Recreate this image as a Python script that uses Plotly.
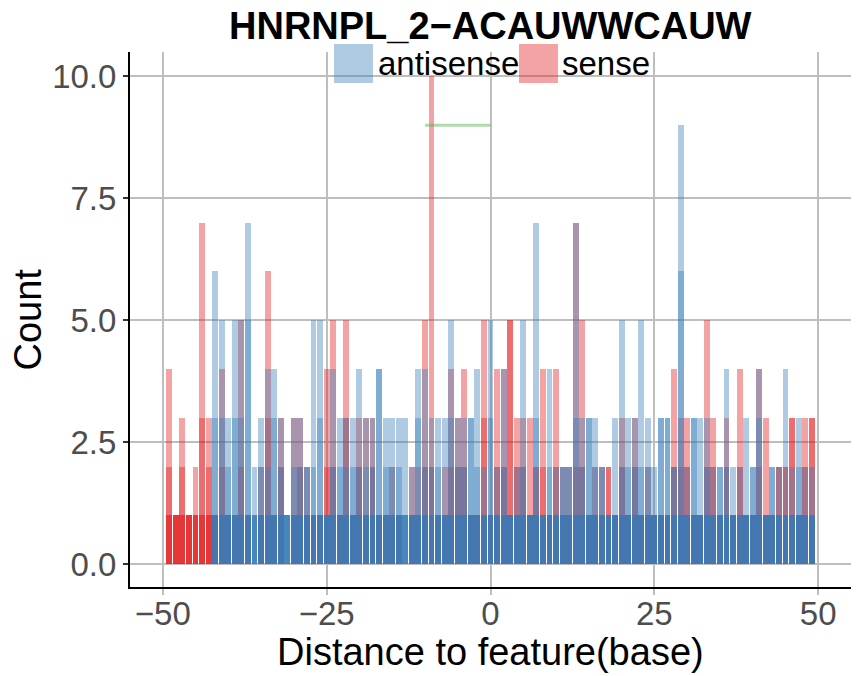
import plotly.graph_objects as go

# positions relative to the feature
positions = list(range(-49, 50))

# layered counts per position (-49 .. 49), tallest layer first
sense_top = [4, 1, 3, 1, 2, 7, 3, 1, 4, 1,
             1, 5, 1, 0, 2, 6, 1, 3, 0, 3,
             3, 2, 1, 1, 4, 5, 1, 5, 1, 3,
             3, 3, 1, 1, 2, 1, 0, 2, 2, 5,
             10, 1, 2, 4, 3, 4, 1, 1, 5, 1,
             4, 4, 5, 3, 3, 3, 2, 4, 1, 4,
             2, 2, 7, 5, 1, 2, 2, 2, 1, 3,
             1, 3, 1, 2, 1, 1, 1, 4, 3, 3,
             1, 1, 5, 3, 1, 3, 1, 4, 1, 1,
             4, 3, 1, 2, 2, 3, 1, 3, 3]
sense_mid = [2, 1, 2, 1, 1, 3, 2, 1, 2, 1,
             1, 2, 1, 0, 1, 3, 1, 2, 0, 1,
             2, 1, 1, 1, 2, 2, 1, 3, 1, 2,
             1, 2, 1, 1, 1, 1, 0, 1, 1, 2,
             2, 1, 1, 2, 2, 2, 1, 1, 3, 1,
             2, 2, 5, 2, 2, 1, 2, 2, 1, 2,
             1, 1, 2, 2, 1, 1, 1, 2, 1, 2,
             1, 2, 1, 1, 1, 1, 1, 2, 2, 2,
             1, 1, 2, 2, 1, 2, 1, 2, 1, 1,
             2, 1, 1, 2, 2, 3, 1, 2, 3]
sense_base = [1, 1, 1, 1, 1, 1, 1, 1, 1, 1,
              1, 1, 1, 0, 1, 1, 1, 1, 0, 1,
              1, 1, 1, 1, 1, 1, 1, 1, 1, 1,
              1, 1, 1, 1, 1, 1, 0, 1, 1, 1,
              1, 1, 1, 1, 1, 1, 1, 1, 1, 1,
              1, 1, 1, 1, 1, 1, 1, 1, 1, 1,
              1, 1, 1, 1, 1, 1, 1, 1, 1, 1,
              1, 1, 1, 1, 1, 1, 1, 1, 1, 1,
              1, 1, 1, 1, 1, 1, 1, 1, 1, 1,
              1, 1, 1, 1, 1, 1, 1, 1, 1]

antisense_top = [0, 0, 0, 0, 0, 0, 0, 6, 5, 3,
                 5, 5, 7, 2, 3, 4, 4, 3, 1, 3,
                 3, 2, 5, 5, 1, 4, 3, 3, 3, 4,
                 3, 3, 4, 3, 3, 3, 3, 2, 4, 4,
                 3, 3, 3, 5, 3, 3, 3, 4, 2, 5,
                 2, 4, 1, 2, 5, 1, 7, 1, 4, 2,
                 2, 2, 7, 3, 3, 3, 2, 1, 3, 5,
                 3, 3, 5, 3, 2, 3, 3, 2, 9, 2,
                 3, 3, 3, 2, 2, 4, 2, 2, 3, 2,
                 4, 1, 2, 2, 4, 2, 3, 2, 2]
antisense_mid = [0, 0, 0, 0, 0, 0, 0, 3, 3, 2,
                 3, 3, 5, 1, 2, 2, 3, 2, 1, 2,
                 2, 2, 2, 3, 1, 2, 2, 2, 2, 2,
                 2, 2, 4, 2, 2, 2, 1, 1, 3, 2,
                 2, 2, 1, 3, 2, 2, 3, 2, 1, 3,
                 1, 2, 1, 1, 2, 1, 3, 1, 2, 1,
                 2, 2, 3, 2, 3, 2, 2, 1, 1, 2,
                 2, 2, 2, 2, 1, 3, 3, 2, 6, 1,
                 3, 1, 2, 1, 2, 2, 1, 1, 1, 2,
                 3, 1, 2, 1, 1, 1, 2, 1, 1]
antisense_base = [0, 0, 0, 0, 0, 0, 0, 1, 1, 1,
                  1, 1, 1, 1, 1, 1, 1, 1, 1, 1,
                  1, 1, 1, 1, 1, 1, 1, 1, 1, 1,
                  1, 1, 1, 1, 1, 1, 1, 1, 1, 1,
                  1, 1, 1, 1, 1, 1, 1, 1, 1, 1,
                  1, 1, 1, 1, 1, 1, 1, 1, 1, 1,
                  1, 1, 1, 1, 1, 1, 1, 1, 1, 1,
                  1, 1, 1, 1, 1, 1, 1, 1, 1, 1,
                  1, 1, 1, 1, 1, 1, 1, 1, 1, 1,
                  1, 1, 1, 1, 1, 1, 1, 1, 1]

# motif span marker
motif_x = [-10, 0]
motif_y = [9, 9]

x_ticks = [-50, -25, 0, 25, 50]
y_ticks = [0, 2.5, 5, 7.5, 10]
y_labels = ["0.0", "2.5", "5.0", "7.5", "10.0"]

red = "rgba(228,26,28,0.4)"
blue = "rgba(55,126,184,0.4)"
green = "rgba(77,175,74,0.45)"

fig = go.Figure()

# sense drawn first, antisense on top (as in the original)
for layer in [sense_top, sense_mid, sense_base, sense_base]:
    fig.add_trace(go.Bar(x=positions, y=layer, width=0.9, marker_color=red,
                         marker_line_width=0, showlegend=False))
for layer in [antisense_top, antisense_mid, antisense_base, antisense_base, antisense_base]:
    fig.add_trace(go.Bar(x=positions, y=layer, width=0.9, marker_color=blue,
                         marker_line_width=0, showlegend=False))

fig.add_trace(go.Scatter(x=motif_x, y=motif_y, mode="lines",
                         line=dict(color=green, width=3), showlegend=False))

# legend drawn by hand so the keys are as big as ggplot's
fig.add_shape(type="rect", xref="paper", yref="paper", x0=0.2829, x1=0.3370,
              y0=0.9421, y1=1.015, fillcolor=blue, line_width=0, layer="above")
fig.add_shape(type="rect", xref="paper", yref="paper", x0=0.5395, x1=0.5936,
              y0=0.9421, y1=1.015, fillcolor=red, line_width=0, layer="above")
fig.add_annotation(text="antisense", xref="paper", yref="paper", x=0.3412, y=0.9794,
                   xanchor="left", yanchor="middle", showarrow=False,
                   font=dict(size=33, color="black"))
fig.add_annotation(text="sense", xref="paper", yref="paper", x=0.5964, y=0.9794,
                   xanchor="left", yanchor="middle", showarrow=False,
                   font=dict(size=33, color="black"))

fig.add_annotation(text="<b>HNRNPL_2\u2212ACAUWWCAUW</b>", xref="paper", yref="paper",
                   x=0.5, y=1.048, xanchor="center", yanchor="middle", showarrow=False,
                   font=dict(size=38, color="black"))
fig.add_annotation(text="Count", xref="paper", yref="paper", x=-0.1415, y=0.5,
                   textangle=-90, xanchor="center", yanchor="middle", showarrow=False,
                   font=dict(size=38, color="black"))
fig.add_annotation(text="Distance to feature(base)", xref="paper", yref="paper",
                   x=0.5, y=-0.1215, xanchor="center", yanchor="middle", showarrow=False,
                   font=dict(size=38, color="black"))

# page body has an 8px margin, so the figure is sized to fit the window
fig.update_layout(
    width=856, height=668,
    margin=dict(l=122, r=13, t=44, b=89),
    barmode="overlay", bargap=0,
    plot_bgcolor="white", paper_bgcolor="white",
    font=dict(family="Liberation Sans, Arial, sans-serif"),
)
fig.update_xaxes(range=[-55, 55], tickvals=x_ticks, showgrid=True, gridcolor="#BEBEBE",
                 gridwidth=1.6, zeroline=False, showline=True, linecolor="black",
                 linewidth=2, ticks="outside", ticklen=6, tickcolor="#BEBEBE",
                 tickwidth=1.6, ticklabelstandoff=-10,
                 tickfont=dict(size=33, color="#4D4D4D"))
fig.update_yaxes(range=[-0.47, 10.5], tickvals=y_ticks, ticktext=y_labels, showgrid=True,
                 gridcolor="#BEBEBE", gridwidth=1.6, zeroline=False, showline=True,
                 linecolor="black", linewidth=2, ticks="outside", ticklen=5,
                 tickcolor="#333333", tickwidth=1.6, tickfont=dict(size=33, color="#4D4D4D"))

fig.write_html("out.html")
